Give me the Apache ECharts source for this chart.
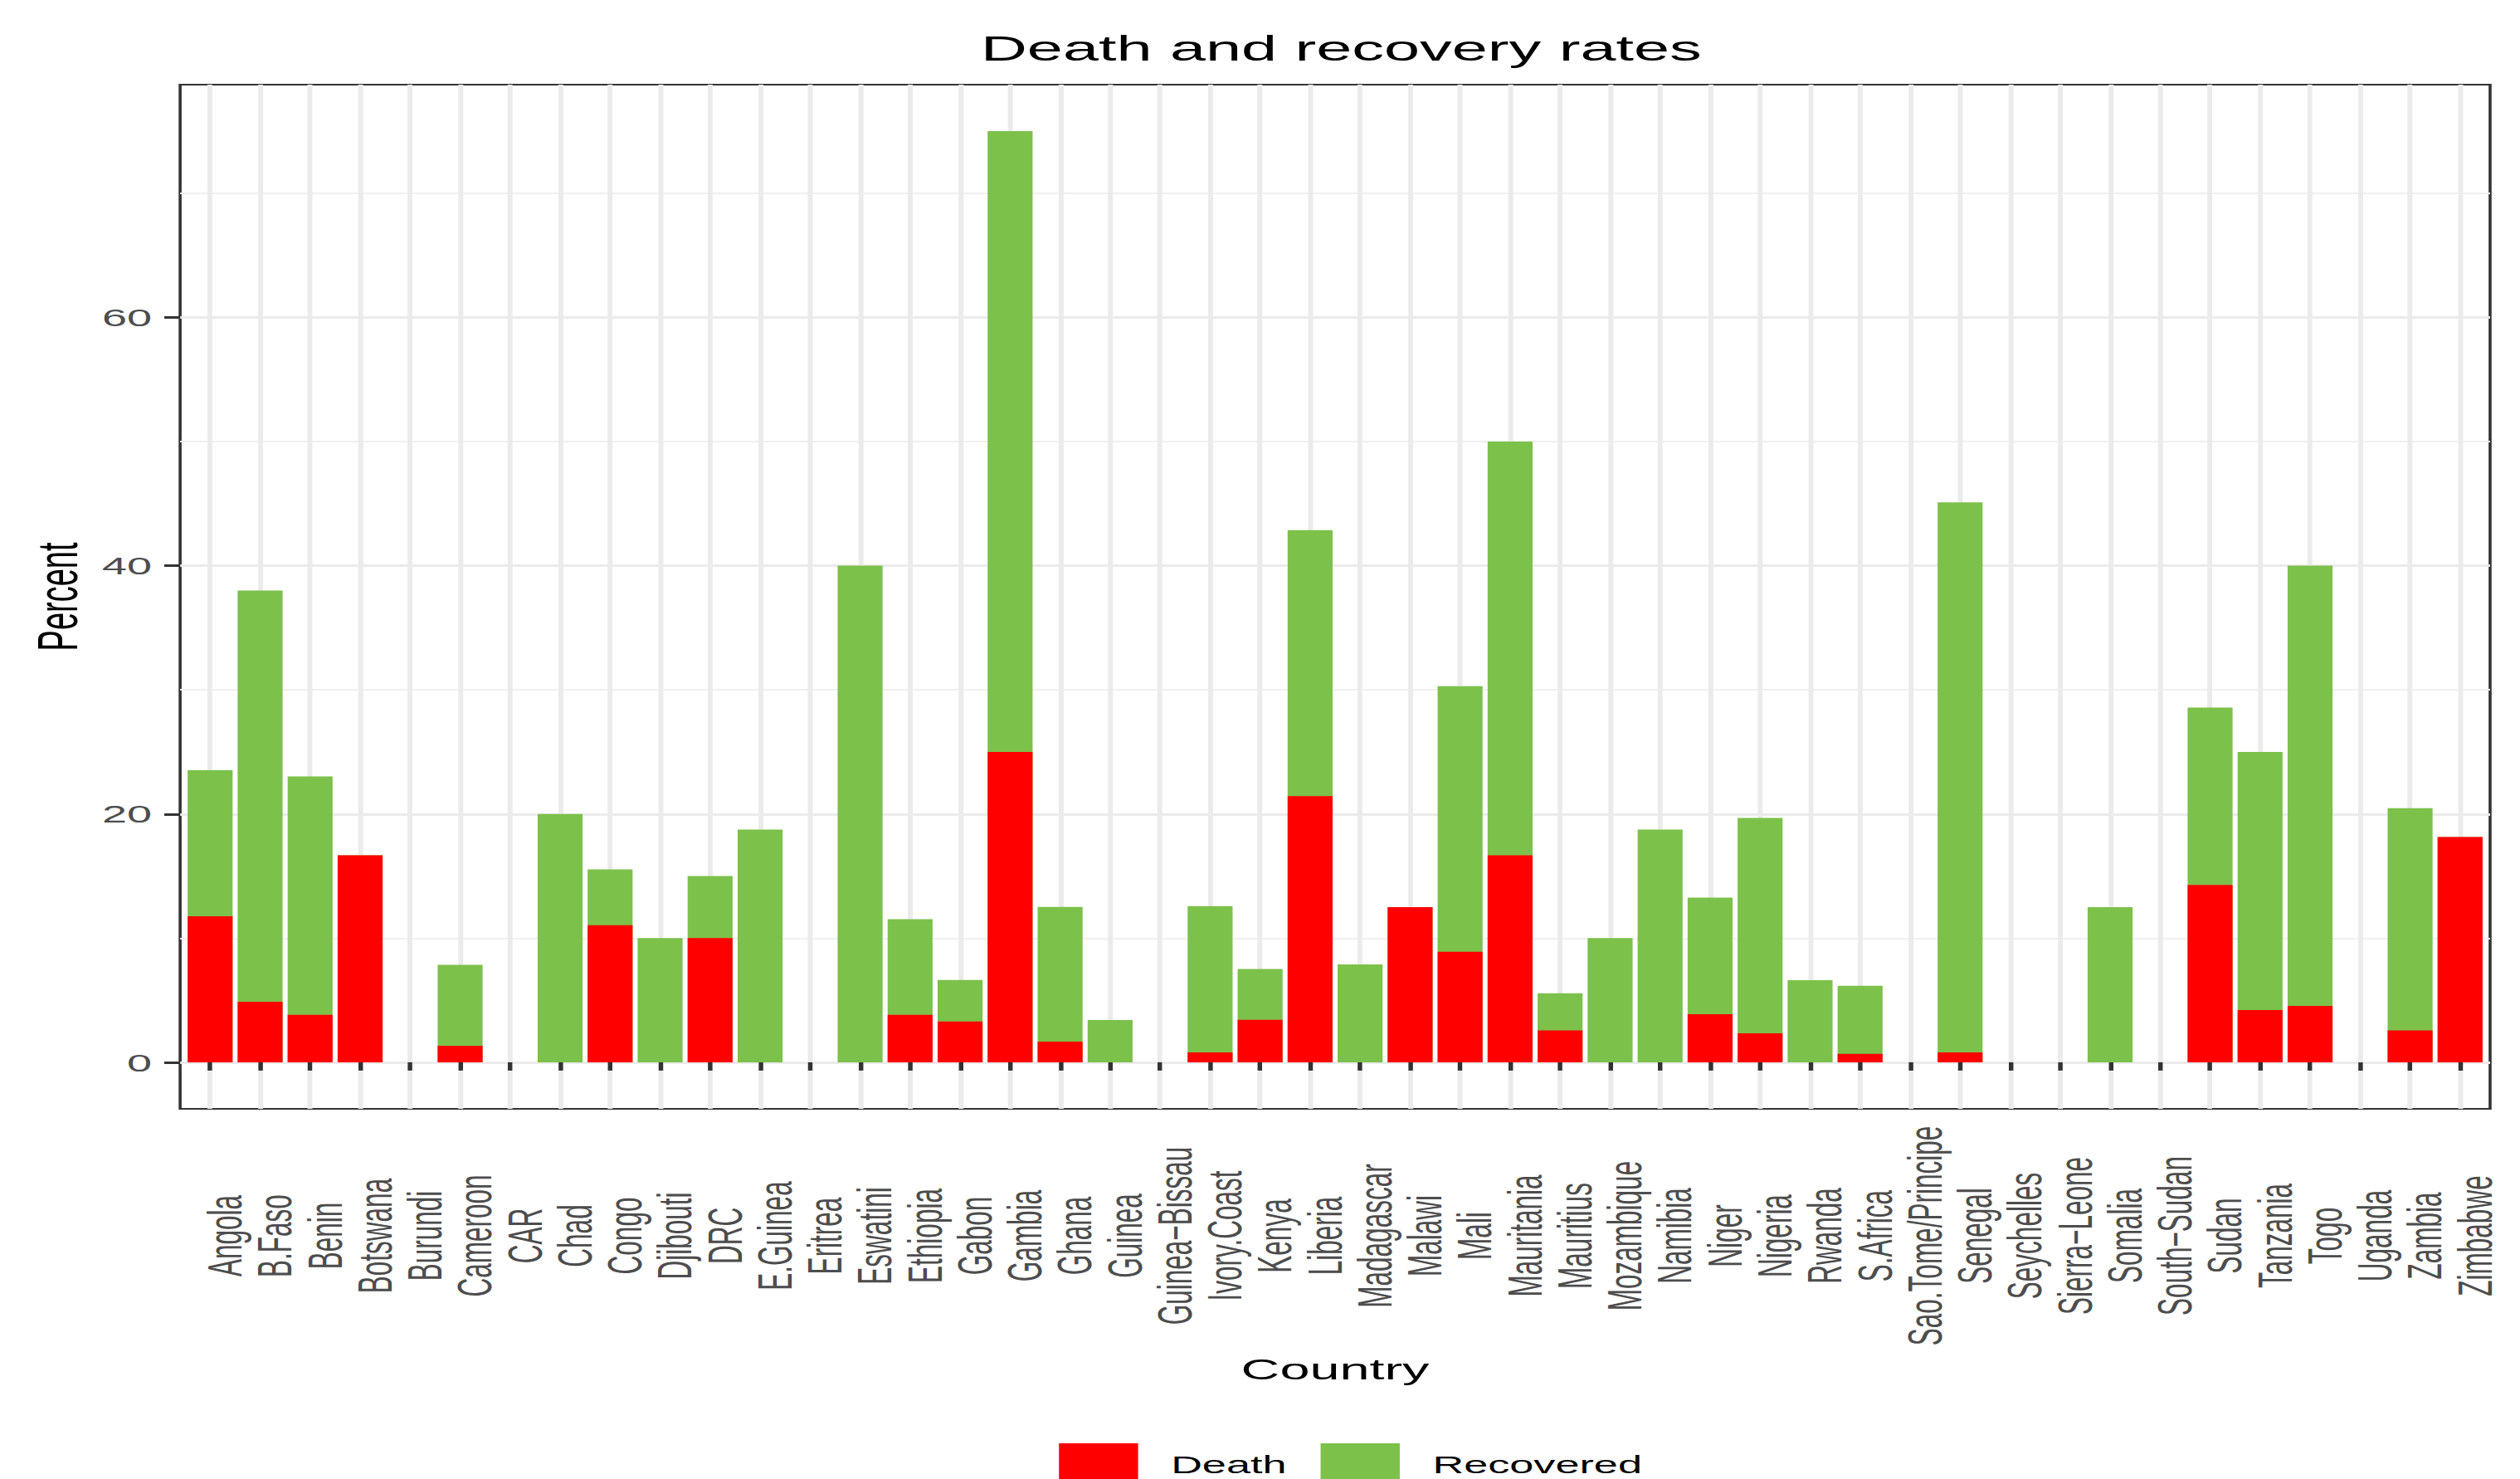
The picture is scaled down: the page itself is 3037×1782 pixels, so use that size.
<!DOCTYPE html>
<html><head><meta charset="utf-8">
<script src="https://cdn.jsdelivr.net/npm/echarts@6/dist/echarts.min.js"></script>
<style>
html,body{margin:0;padding:0;overflow:hidden;background:#fff;width:3037px;height:1782px}
#chart{width:1687px;height:1782px;transform:scaleX(1.8);transform-origin:0 0}
</style>
</head><body><div id="chart"></div>
<script>
const countries = ["Angola","B.Faso","Benin","Botswana","Burundi","Cameroon","CAR","Chad","Congo","Djibouti",
  "DRC","E.Guinea","Eritrea","Eswatini","Ethiopia","Gabon","Gambia","Ghana","Guinea","Guinea\u2212Bissau",
  "Ivory.Coast","Kenya","Liberia","Madagascar","Malawi","Mali","Mauritania","Mauritius","Mozambique","Namibia",
  "Niger","Nigeria","Rwanda","S.Africa","Sao.Tome/Principe","Senegal","Seychelles","Sierra\u2212Leone","Somalia","South\u2212Sudan",
  "Sudan","Tanzania","Togo","Uganda","Zambia","Zimbabwe"];
const deathRate = [11.76,4.88,3.82,16.67,0,1.33,0,0,11.05,0,
  10,0,0,0,3.82,3.29,25,1.67,0,0,
  0.8,3.42,21.43,0,12.5,8.9,16.67,2.56,0,0,
  3.87,2.33,0,0.68,0,0.79,0,0,0,0,
  14.29,4.21,4.54,0,2.56,18.15];
const recoveredRate = [11.76,33.12,19.2,0,0,6.52,0,20,4.48,10,
  5,18.75,0,40,7.7,3.34,50,10.85,3.41,0,
  11.78,4.1,21.43,7.89,0,21.4,33.33,3.0,10,18.75,
  9.39,17.36,6.61,5.48,0,44.32,0,0,12.5,0,
  14.28,20.79,35.46,0,17.91,0];
const yTickValues = [0,20,40,60];
const yMinorValues = [10,30,50,70];
const seriesNames = ["Death","Recovered"];

const RED = "#ff0000", GREEN = "#7cc14a";
const FONT = "Liberation Sans";
const positions = countries.map((c, i) => i + 1);
const totals = deathRate.map((d, i) => d + recoveredRate[i]);
const BW = 30.1;

const chart = echarts.init(document.getElementById("chart"), null, {renderer: "svg"});
chart.setOption({
  animation: false,
  backgroundColor: "#fff",
  textStyle: {fontFamily: FONT},
  title: {
    text: "Death and recovery rates",
    left: 893, top: 31, textAlign: "center",
    textStyle: {fontFamily: FONT, fontSize: 43, fontWeight: "normal", color: "#000"}
  },
  legend: {
    data: seriesNames,
    left: 704, top: 1734,
    itemWidth: 53, itemHeight: 53, itemGap: 22.8,
    icon: "rect",
    textStyle: {fontFamily: FONT, fontSize: 29, color: "#000", padding: [0, 0, 0, 17]}
  },
  grid: {
    left: 120.6, right: 19.8, top: 102, bottom: 446,
    show: true, borderColor: "#333333", borderWidth: 2, backgroundColor: "transparent"
  },
  xAxis: {
    type: "value", min: 0.4, max: 46.6,
    name: "Country", nameLocation: "middle", nameGap: 296,
    nameTextStyle: {fontFamily: FONT, fontSize: 36, color: "#000"},
    axisLine: {show: false},
    axisTick: {show: true, customValues: positions, length: 10, lineStyle: {color: "#333333", width: 3}},
    axisLabel: {
      customValues: positions,
      formatter: v => countries[Math.round(v) - 1] || "",
      rotate: 90, align: "center", verticalAlign: "top", lineHeight: 20,
      margin: 153, fontFamily: FONT, fontSize: 31.5, color: "#4d4d4d"
    },
    splitLine: {show: true, lineStyle: {color: "#ebebeb", width: 3.3}}
  },
  yAxis: [{
    type: "value", min: -3.75, max: 78.75, position: "left",
    name: "Percent", nameLocation: "middle", nameRotate: 90, nameGap: 60,
    nameTextStyle: {fontFamily: FONT, fontSize: 38, color: "#000"},
    axisLine: {show: false},
    axisTick: {show: true, customValues: yTickValues, length: 10.6, lineStyle: {color: "#333333", width: 3}},
    axisLabel: {customValues: yTickValues, margin: 18.9, fontFamily: FONT, fontSize: 30, color: "#4d4d4d"},
    splitLine: {show: true, lineStyle: {color: "#ebebeb", width: 3}}
  }, {
    type: "value", min: -3.75, max: 78.75, position: "left",
    axisLine: {show: false},
    axisTick: {show: false, customValues: yMinorValues},
    axisLabel: {show: false, customValues: yMinorValues},
    splitLine: {show: true, lineStyle: {color: "#f0f0f0", width: 2}}
  }],
  series: [{
    name: "Recovered", type: "bar", xAxisIndex: 0, yAxisIndex: 0,
    data: totals.map((t, i) => [positions[i], t]),
    barWidth: BW, barGap: "-100%",
    itemStyle: {color: GREEN}, z: 2
  }, {
    name: "Death", type: "bar", xAxisIndex: 0, yAxisIndex: 0,
    data: deathRate.map((d, i) => [positions[i], d]),
    barWidth: BW, barGap: "-100%",
    itemStyle: {color: RED}, z: 3
  }]
});
</script>
</body></html>
